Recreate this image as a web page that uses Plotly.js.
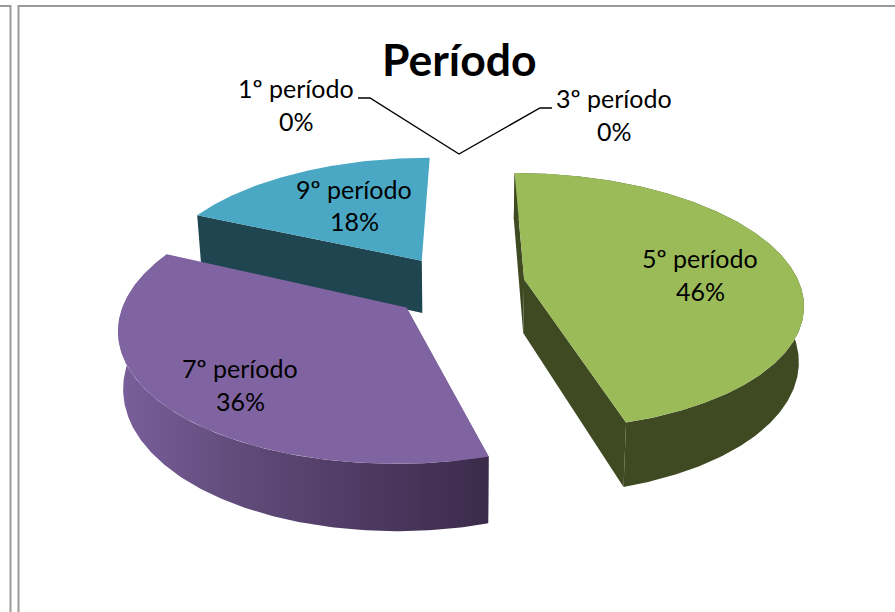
<!DOCTYPE html>
<html>
<head>
<meta charset="utf-8">
<script src="https://cdn.plot.ly/plotly-3.0.1.min.js"></script>
<style>html,body{margin:0;padding:0;background:#fff}#chart{width:895px;height:612px}</style>
</head>
<body>
<div id="chart"></div>
<script>
const categories = ["1º período","3º período","5º período","7º período","9º período"];
const values = [0,0,46,36,18];
const topColors = ["#4F81BD","#C0504D","#9BBB59","#8064A2","#4AA8C4"];
const wallColors = ["#2A4466","#682B29","#3F4A22","#5D4A78","#1F4550"];
const labelCentres = [[296,88],[614,98],[700,258],[240,368],[354,189]];
const pctCentres = [[296,121],[614,131],[700,291],[240,401],[354,221]];
const apexNudgeV = [0,0,0,-0.035,-0.02];
const apexNudgeU = [0,0,0,0,-0.011];
const titleText = "Período";

// 3D pie camera
const xv=459, y0=283, A=275, K=0.172, D=731, explode=0.24, depth=54, shrink=0.985, warp=0.05;
function proj(U,V,low){
  const den=1+K*V;
  let x=A*U/den, y=y0-D+D/den;
  if(low){ x*=shrink; y+=depth/den; }
  return [xv+x,y];
}
const warped=a=>(Math.sin(a)<0||Math.cos(a)<0) ? a+warp*Math.sin(2*a) : a;
const total=values.reduce((a,b)=>a+b,0);
const traces=[];
function poly(pts,color,grad){
  const t={x:pts.map(p=>p[0]),y:pts.map(p=>p[1]),mode:'lines',fill:'toself',line:{width:0,color:color},
    fillcolor:color,hoverinfo:'skip',showlegend:false,type:'scatter'};
  if(grad) t.fillgradient=grad;
  return t;
}
let start=0;
const slices=values.map((v,i)=>{const a0=start;start+=v/total*2*Math.PI;return {i,a0,a1:start,v};}).filter(s=>s.v>0);
// painted far to near: last category first
[...slices].reverse().forEach(s=>{
  const mid=(s.a0+s.a1)/2, ox=explode*Math.sin(mid), oy=explode*Math.cos(mid);
  const n=Math.ceil((s.a1-s.a0)*90), top=[], low=[];
  for(let j=0;j<=n;j++){
    const a=warped(s.a0+(s.a1-s.a0)*j/n), U=ox+Math.sin(a), V=oy+Math.cos(a);
    top.push(proj(U,V,false)); low.push(proj(U,V,true));
  }
  const ax=ox+apexNudgeU[s.i], ay=oy+apexNudgeV[s.i];
  const apexT=proj(ax,ay,false), apexL=proj(ax,ay,true);
  const c=wallColors[s.i];
  traces.push(poly([apexT,top[0],low[0],apexL],c));
  if(Math.sin(s.a1)>-0.5 && s.i!==4) traces.push(poly([apexT,top[n],low[n],apexL],c));
  let grad=null;
  if(s.i===3) grad={type:'horizontal',start:118,stop:490,colorscale:[[0,'#7A5F9B'],[0.35,'#5F4A78'],[0.7,'#4B3860'],[1,'#3B2B4A']]};
  if(s.i!==4) traces.push(poly(top.concat(low.slice().reverse()),c,grad));
  traces.push(poly([apexT].concat(top),topColors[s.i]));
});
// leader lines of the two empty slices
traces.push({x:[358,370,459,540,552],y:[98,98,154,108,108],mode:'lines',type:'scatter',line:{color:'#000',width:1.4},hoverinfo:'skip',showlegend:false});

const font={family:'Lato,sans-serif',size:25,color:'#000'};
const annotations=[];
categories.forEach((c,i)=>{
  annotations.push({x:labelCentres[i][0],y:labelCentres[i][1],text:c,showarrow:false,font,xanchor:'center',yanchor:'middle'});
  annotations.push({x:pctCentres[i][0],y:pctCentres[i][1],text:values[i]+'%',showarrow:false,font,xanchor:'center',yanchor:'middle'});
});
annotations.push({x:459,y:58,text:'<b>'+titleText+'</b>',showarrow:false,xanchor:'center',yanchor:'middle',
  font:{family:'Lato,sans-serif',size:44.5,color:'#000'}});

const frame='#9a9a9a';
const line=(x0,y0_,x1,y1)=>({type:'line',xref:'x',yref:'y',x0,y0:y0_,x1,y1,line:{color:frame,width:2},layer:'below'});
const layout={
  width:895,height:612,margin:{l:0,r:0,t:0,b:0},paper_bgcolor:'#fff',plot_bgcolor:'#fff',
  xaxis:{range:[0,895],visible:false,fixedrange:true},
  yaxis:{range:[612,0],visible:false,fixedrange:true},
  showlegend:false,annotations,
  shapes:[line(0,6,10,6),line(10.5,5,10.5,612),line(18.5,5,18.5,612),line(18,6,895,6)]
};
Plotly.newPlot('chart',traces,layout,{displayModeBar:false,staticPlot:true});
</script>
</body>
</html>
